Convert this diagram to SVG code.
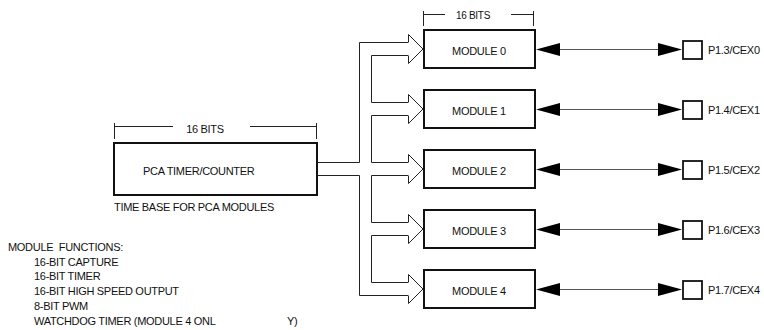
<svg xmlns="http://www.w3.org/2000/svg" width="764" height="330" viewBox="0 0 764 330">
<defs>
<style>
text{font-family:"Liberation Sans",Arial,Helvetica,sans-serif;fill:#111;letter-spacing:-0.3px}
.t11{font-size:11px}
.t10{font-size:10px}
.box{fill:#fff;stroke:#111;stroke-width:2}
.pin{fill:#fff;stroke:#111;stroke-width:1.8}
.ln{fill:none;stroke:#222;stroke-width:1}
.gl{fill:none;stroke:#555;stroke-width:1}
.ah{fill:#000;stroke:none}
.mid{text-anchor:middle}
</style>
</defs>
<rect width="764" height="330" fill="#fff"/>

<!-- dimension: PCA 16 bits -->
<g id="dim-pca">
<path class="ln" d="M114.5,123V139M316.5,123V139M114,126.5H173M250,126.5H317"/>
<text class="t11 mid" x="205" y="133">16 BITS</text>
</g>

<!-- dimension: module 16 bits -->
<g id="dim-module">
<path class="ln" d="M423.5,11V26M533.5,11V26M423,14.5H445M511,14.5H534"/>
<text class="t10 mid" x="473" y="19">16 BITS</text>
</g>

<g id="pca">
<rect class="box" x="114" y="143" width="203" height="52"/>
<text class="t11" x="143" y="175">PCA TIMER/COUNTER</text>
<text class="t11" x="114" y="211">TIME BASE FOR PCA MODULES</text>
</g>

<!-- connectors -->
<g id="connectors">
<path class="ln" d="M317,162.5H359.5V42.5H408M408,55.5H371.5V102.5H408M408,115.5H371.5V162.5H408M408,175.5H371.5V222.5H408M408,235.5H371.5V282.5H408M317,175.5H359.5V295.5H408"/>
<path class="ln" d="M408.5,42.5V34.5L423,49L408.5,63.5V55.5"/>
<path class="ln" d="M408.5,102.5V94.5L423,109L408.5,123.5V115.5"/>
<path class="ln" d="M408.5,162.5V154.5L423,169L408.5,183.5V175.5"/>
<path class="ln" d="M408.5,222.5V214.5L423,229L408.5,243.5V235.5"/>
<path class="ln" d="M408.5,282.5V274.5L423,289L408.5,303.5V295.5"/>
<g id="pinlinks">
<path class="gl" d="M560,49.5H659M560,109.5H659M560,169.5H659M560,229.5H659M560,289.5H659"/>
<path class="ah" d="M536,49.5L560,43V56ZM682,49.5L658,43V56Z"/>
<path class="ah" d="M536,109.5L560,103V116ZM682,109.5L658,103V116Z"/>
<path class="ah" d="M536,169.5L560,163V176ZM682,169.5L658,163V176Z"/>
<path class="ah" d="M536,229.5L560,223V236ZM682,229.5L658,223V236Z"/>
<path class="ah" d="M536,289.5L560,283V296ZM682,289.5L658,283V296Z"/>
</g>
</g>

<g id="module0">
<rect class="box" x="424" y="30" width="111" height="38"/>
<text class="t11 mid" x="479" y="55">MODULE 0</text>
</g>
<g id="module1">
<rect class="box" x="424" y="90" width="111" height="38"/>
<text class="t11 mid" x="479" y="115">MODULE 1</text>
</g>
<g id="module2">
<rect class="box" x="424" y="150" width="111" height="38"/>
<text class="t11 mid" x="479" y="175">MODULE 2</text>
</g>
<g id="module3">
<rect class="box" x="424" y="210" width="111" height="38"/>
<text class="t11 mid" x="479" y="235">MODULE 3</text>
</g>
<g id="module4">
<rect class="box" x="424" y="270" width="111" height="38"/>
<text class="t11 mid" x="479" y="295">MODULE 4</text>
</g>

<g id="pin0">
<rect class="pin" x="683" y="41" width="19" height="18"/>
<text class="t11" x="708" y="54">P1.3/CEX0</text>
</g>
<g id="pin1">
<rect class="pin" x="683" y="101" width="19" height="18"/>
<text class="t11" x="708" y="114">P1.4/CEX1</text>
</g>
<g id="pin2">
<rect class="pin" x="683" y="161" width="19" height="18"/>
<text class="t11" x="708" y="174">P1.5/CEX2</text>
</g>
<g id="pin3">
<rect class="pin" x="683" y="221" width="19" height="18"/>
<text class="t11" x="708" y="234">P1.6/CEX3</text>
</g>
<g id="pin4">
<rect class="pin" x="683" y="281" width="19" height="18"/>
<text class="t11" x="708" y="294">P1.7/CEX4</text>
</g>

<g id="functions">
<text class="t11" x="8" y="251" xml:space="preserve">MODULE  FUNCTIONS:</text>
<text class="t11" x="34" y="265.5">16-BIT CAPTURE</text>
<text class="t11" x="34" y="280">16-BIT TIMER</text>
<text class="t11" x="34" y="295">16-BIT HIGH SPEED OUTPUT</text>
<text class="t11" x="34" y="310">8-BIT PWM</text>
<text class="t11" x="34" y="325">WATCHDOG TIMER (MODULE 4 ONL<tspan x="287">Y)</tspan></text>
</g>
</svg>
